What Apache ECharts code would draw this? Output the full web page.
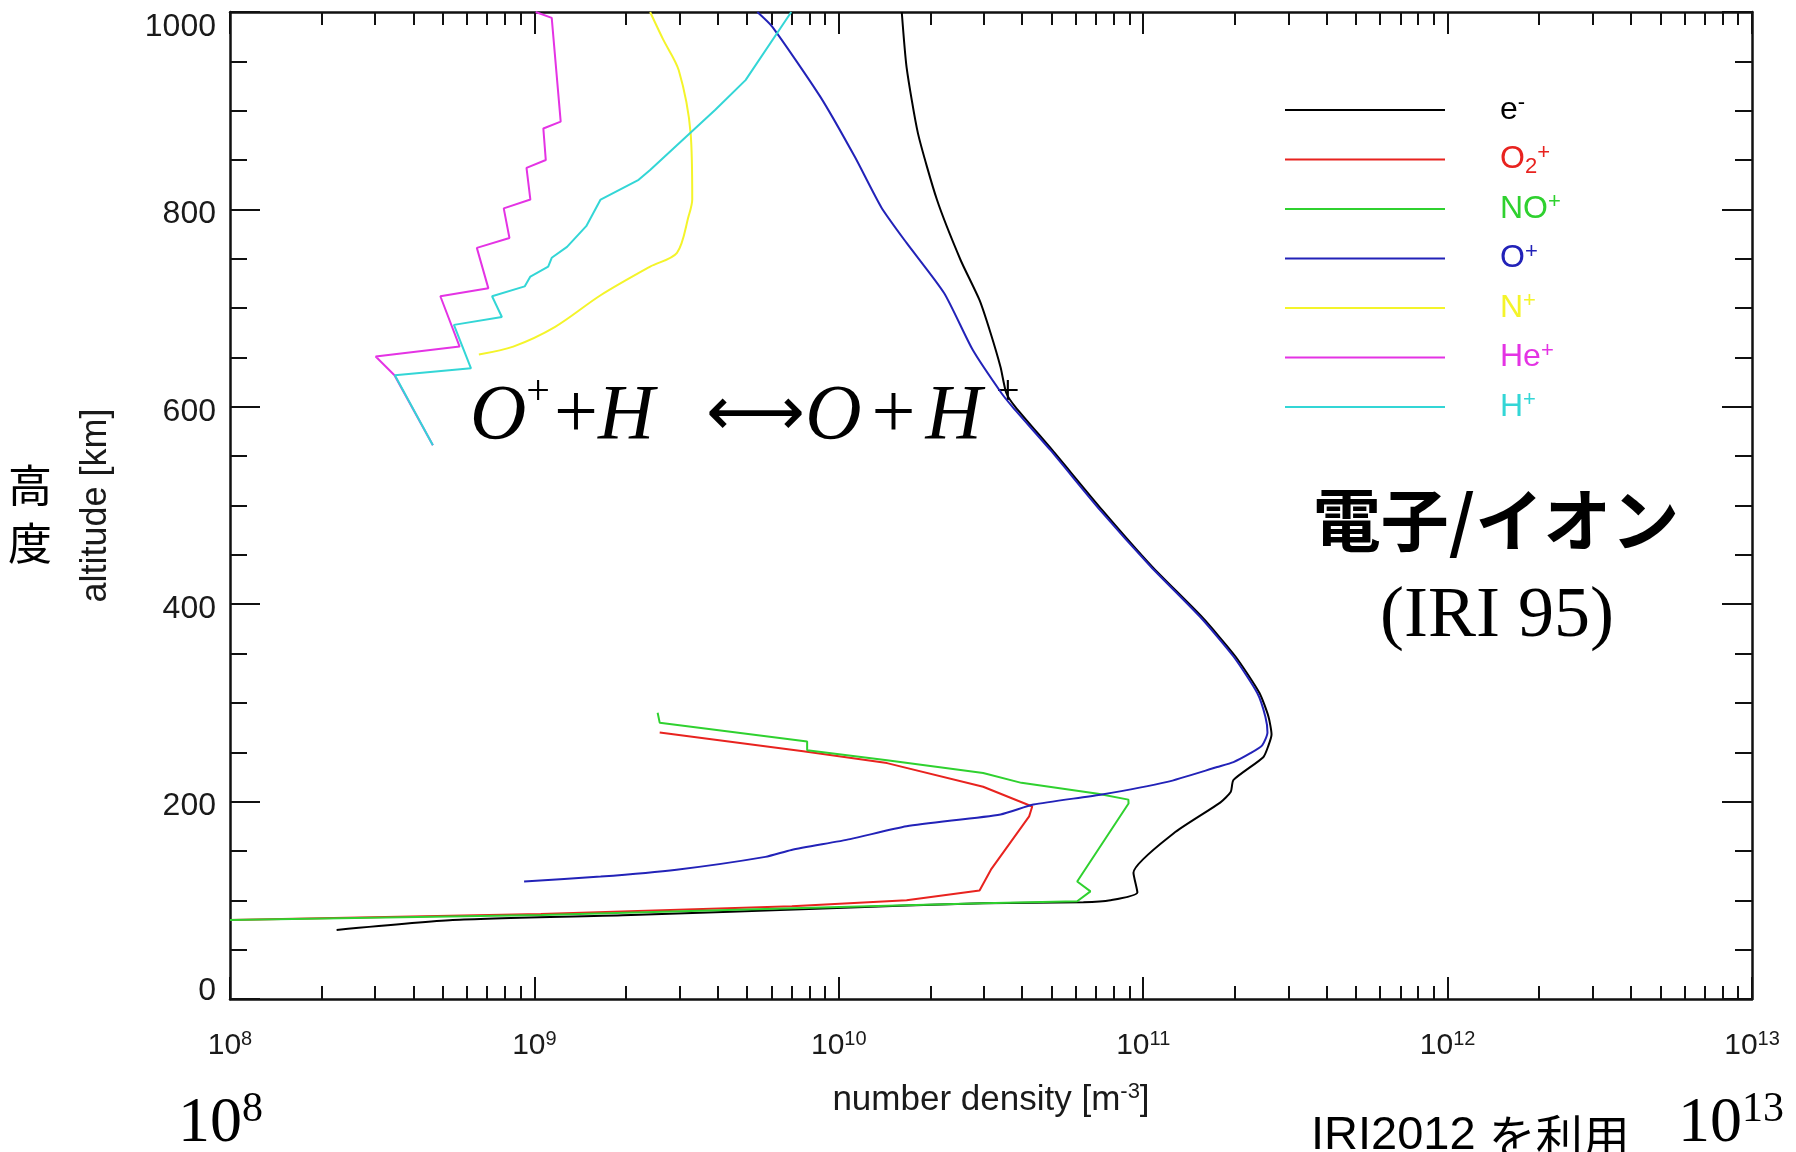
<!DOCTYPE html>
<html><head><meta charset="utf-8">
<script src="https://cdn.jsdelivr.net/npm/echarts@6/dist/echarts.min.js"></script>
<style>html,body{margin:0;padding:0;background:#fff}#c{width:1796px;height:1152px}</style>
</head><body><div id="c"></div>
<script>
// ---- data (number density in m^-3, altitude in km) ----
const eDens = [1.61e10,1.67e10,1.82e10,2.10e10,2.51e10,2.90e10,3.15e10,3.40e10,3.55e10,3.80e10,5.03e10,7.35e10,1.07e11,1.56e11,2.01e11,2.41e11,2.58e11,2.64e11,2.58e11,2.48e11,1.98e11,1.94e11,1.79e11,1.26e11,9.29e10,9.57e10,7.80e10,6.36e10,2.98e10,9.36e9,2.08e9,5.39e8,2.24e8];
const eAlt  = [1000,944,877,810,749,708,675,640,614,600,556,495,438,387,347,310,286,268,257,245,222,210,199,168,128,108,100,98,97,92,85,80,70];

const o2Dens = [2.58e9,7.64e9,1.44e10,2.98e10,4.32e10,4.22e10,3.16e10,2.90e10,1.67e10,7.01e9,1.05e9,1.0e8];
const o2Alt  = [270,251,239,215,195,185,131,110,100,94,86,80];

const noDens = [2.54e9,2.58e9,7.87e9,7.87e9,1.44e10,2.98e10,3.98e10,7.10e10,8.94e10,8.95e10,6.07e10,6.71e10,6.07e10,2.98e10,9.36e9,1.06e9,1.0e8];
const noAlt  = [290,280,261,252,242,229,219,208,202,198,119,109,99,97,93,85,80];

const oDens = [5.40e9,6.05e9,8.70e9,1.13e10,1.38e10,1.67e10,2.22e10,2.75e10,3.42e10,3.72e10,4.96e10,7.23e10,1.06e11,1.54e11,1.98e11,2.37e11,2.52e11,2.56e11,2.46e11,2.25e11,1.98e11,1.75e11,1.20e11,7.23e10,4.36e10,3.40e10,1.67e10,1.09e10,6.99e9,5.74e9,2.93e9,1.65e9,9.25e8];
const oAlt  = [1000,985,914,853,802,766,715,658,614,600,556,495,438,387,347,310,286,270,257,249,240,235,220,207,197,187,175,162,151,144,131,124,119];

const nDens = [6.57e8,8.52e8,1.17e9,1.65e9,2.40e9,2.94e9,3.21e9,3.30e9,3.26e9,2.98e9,2.65e9,2.40e9];
const nAlt  = [653,661,681,713,742,756,793,810,877,941,972,1000];

const heDens = [1.01e9,1.14e9,1.22e9,1.07e9,1.09e9,9.42e8,9.70e8,7.93e8,8.28e8,6.47e8,7.06e8,4.91e8,5.68e8,3.01e8,3.47e8,4.64e8];
const heAlt  = [1000,994,889,882,850,842,810,801,771,761,720,712,661,651,632,561];

const hDens = [4.64e8,3.48e8,6.19e8,5.44e8,7.82e8,7.26e8,9.29e8,9.70e8,1.11e9,1.14e9,1.28e9,1.48e9,1.65e9,2.20e9,2.40e9,3.93e9,4.94e9,6.98e9];
const hAlt  = [561,632,639,683,691,712,722,732,742,751,762,783,810,830,840,901,931,1000];

const speciesNames = ['e-','O2+','NO+','O+','N+','He+','H+'];
const speciesColors = ['#000000','#e8231f','#2fd12f','#2222b8','#f4f42a','#e433e4','#33d6d6'];
const speciesSmooth = [0.2, 0, 0, 0.2, 0.3, 0, 0];
const xMajorTicks = [1e8,1e9,1e10,1e11,1e12,1e13];

// ---- build ----
const zip = (xs, ys) => xs.map((x, i) => [x, ys[i]]);
const seriesData = [zip(eDens,eAlt), zip(o2Dens,o2Alt), zip(noDens,noAlt), zip(oDens,oAlt), zip(nDens,nAlt), zip(heDens,heAlt), zip(hDens,hAlt)];

const xMinorTicks = [];
for (let d = 8; d < 13; d++) for (let k = 2; k <= 9; k++) xMinorTicks.push(k * Math.pow(10, d));

const SANS = '"Liberation Sans", Arial, Helvetica, sans-serif';
const SERIF = '"Liberation Serif", "Times New Roman", serif';
const CJK = '"Noto Sans CJK JP", "Noto Sans", sans-serif';
const AX = '#111';
const TXT = '#1a1a1a';

const legendTexts = {
  'e-': '{sp| }{k0|e}{u0|-}',
  'O2+': '{sp| }{k1|O}{d1|2}{u1|+}',
  'NO+': '{sp| }{k2|NO}{u2|+}',
  'O+': '{sp| }{k3|O}{u3|+}',
  'N+': '{sp| }{k4|N}{u4|+}',
  'He+': '{sp| }{k5|He}{u5|+}',
  'H+': '{sp| }{k6|H}{u6|+}'
};
const legendRich = { sp: { width: 50, fontSize: 32, lineHeight: 36 } };
speciesColors.forEach((c, i) => {
  legendRich['k' + i] = { color: c, fontSize: 32, lineHeight: 36, fontFamily: SANS };
  legendRich['u' + i] = { color: c, fontSize: 22, lineHeight: 22, padding: [0, 0, 14, 0], fontFamily: SANS };
  legendRich['d' + i] = { color: c, fontSize: 22, lineHeight: 22, padding: [14, 0, 0, 0], fontFamily: SANS };
});

const supLabel = {
  b: { fontSize: 30, lineHeight: 34, fontFamily: SANS, color: TXT },
  s: { fontSize: 20, lineHeight: 20, padding: [0, 0, 14, 0], fontFamily: SANS, color: TXT }
};

function xAxisBase(pos, ticks, len, showLine, showLabel) {
  return {
    type: 'log', logBase: 10, min: 1e8, max: 1e13, position: pos,
    axisLine: { show: showLine, onZero: false, lineStyle: { color: AX, width: 2.5 } },
    axisTick: { show: true, inside: true, length: len, customValues: ticks, lineStyle: { color: AX, width: 2 } },
    axisLabel: showLabel ? {
      show: true, customValues: xMajorTicks, margin: 30,
      formatter: v => '{b|10}{s|' + Math.round(Math.log10(v)) + '}',
      rich: supLabel
    } : { show: false },
    splitLine: { show: false }, minorTick: { show: false },
    name: showLabel ? '{b|number density [m}{s|-3}{b|]}' : '',
    nameLocation: 'middle', nameGap: 82,
    nameTextStyle: { rich: {
      b: { fontSize: 35, lineHeight: 38, fontFamily: SANS, color: TXT },
      s: { fontSize: 22, lineHeight: 22, padding: [0, 0, 16, 0], fontFamily: SANS, color: TXT } } }
  };
}

function yAxisBase(pos, showLabel) {
  return {
    type: 'value', min: 0, max: 1000, interval: 200, position: pos,
    axisLine: { show: true, onZero: false, lineStyle: { color: AX, width: 2.5 } },
    axisTick: { show: true, inside: true, length: 30, lineStyle: { color: AX, width: 2 } },
    minorTick: { show: true, splitNumber: 4, length: 17, lineStyle: { color: AX, width: 2 } },
    splitLine: { show: false },
    axisLabel: showLabel ? {
      show: true, margin: 14,
      formatter: v => v === 1000 ? '{t|1000}' : (v === 0 ? '{z|0}' : '{n|' + v + '}'),
      rich: {
        t: { fontSize: 32, fontFamily: SANS, color: TXT, padding: [30, 0, 0, 0] },
        z: { fontSize: 32, fontFamily: SANS, color: TXT, padding: [0, 0, 16, 0] },
        n: { fontSize: 32, fontFamily: SANS, color: TXT, padding: [10, 0, 0, 0] }
      }
    } : { show: false },
    name: showLabel ? 'altitude [km]' : '',
    nameLocation: 'middle', nameRotate: 90, nameGap: 116,
    nameTextStyle: { fontSize: 36, fontFamily: SANS, color: TXT }
  };
}

const option = {
  backgroundColor: '#ffffff',
  animation: false,
  grid: { left: 230, top: 12, width: 1522, height: 987, containLabel: false },
  xAxis: [
    xAxisBase('bottom', xMajorTicks, 22, true, true),
    xAxisBase('bottom', xMinorTicks, 13, false, false),
    xAxisBase('top', xMajorTicks, 22, true, false),
    xAxisBase('top', xMinorTicks, 13, false, false)
  ],
  yAxis: [yAxisBase('left', true), yAxisBase('right', false)],
  legend: {
    orient: 'vertical', left: 1285, top: 92, padding: 0,
    itemWidth: 160, itemHeight: 2, itemGap: 13.5,
    icon: 'rect',
    selectedMode: false,
    data: speciesNames,
    formatter: name => legendTexts[name],
    textStyle: { fontSize: 32, lineHeight: 36, fontFamily: SANS, rich: legendRich }
  },
  series: speciesNames.map((n, i) => ({
    name: n, type: 'line', data: seriesData[i],
    xAxisIndex: 0, yAxisIndex: 0,
    showSymbol: false, symbol: 'none', smooth: speciesSmooth[i], clip: true,
    lineStyle: { color: speciesColors[i], width: 2 },
    itemStyle: { color: speciesColors[i] },
    z: 2 + i
  })),
  graphic: [
    { type: 'text', x: 470, y: 372, style: {
        text: '{i|O}{p|+}{b|+}{h|H}{a|\u27F7}{i|O}{c|+}{i|H}{q|+}',
        rich: {
          i: { fontFamily: SERIF, fontStyle: 'italic', fontSize: 78, lineHeight: 90, fill: '#000' },
          h: { fontFamily: SERIF, fontStyle: 'italic', fontSize: 78, lineHeight: 90, fill: '#000', padding: [0, 16, 0, 0] },
          b: { fontFamily: SERIF, fontSize: 78, lineHeight: 90, fill: '#000', padding: [0, 0, 0, 4] },
          c: { fontFamily: SERIF, fontSize: 78, lineHeight: 90, fill: '#000', padding: [0, 10, 0, 10] },
          a: { fontFamily: '"DejaVu Sans", sans-serif', fontSize: 69, lineHeight: 90, fill: '#000', padding: [0, 0, 0, 36] },
          p: { fontFamily: SERIF, fontSize: 42, lineHeight: 42, padding: [0, 0, 48, 0], fill: '#000' },
          q: { fontFamily: SERIF, fontSize: 42, lineHeight: 42, padding: [0, 0, 48, 14], fill: '#000' }
        } } },
    { type: 'text', x: 1496, y: 520, style: { text: '電子/イオン', font: 'bold 68px ' + CJK, fill: '#000', textAlign: 'center', textVerticalAlign: 'middle' } },
    { type: 'text', x: 1497, y: 617, style: { text: '(IRI 95)', font: '72px ' + SERIF, fill: '#000', textAlign: 'center', textVerticalAlign: 'middle' } },
    { type: 'text', x: 30, y: 485, style: { text: '高', font: '44px ' + CJK, fill: '#000', textAlign: 'center', textVerticalAlign: 'middle' } },
    { type: 'text', x: 30, y: 543, style: { text: '度', font: '44px ' + CJK, fill: '#000', textAlign: 'center', textVerticalAlign: 'middle' } },
    { type: 'text', x: 1311, y: 1113, style: {
        text: '{a|IRI2012 }{j|を利用}',
        rich: { a: { fontFamily: SANS, fontSize: 47, fill: '#000' }, j: { fontFamily: CJK, fontSize: 47, fill: '#000' } } } },
    { type: 'text', x: 178, y: 1089, style: {
        text: '{b|10}{s|8}',
        rich: { b: { fontFamily: SERIF, fontSize: 64, lineHeight: 70, fill: '#000' },
                s: { fontFamily: SERIF, fontSize: 42, lineHeight: 42, padding: [0, 0, 28, 0], fill: '#000' } } } },
    { type: 'text', x: 1678, y: 1089, style: {
        text: '{b|10}{s|13}',
        rich: { b: { fontFamily: SERIF, fontSize: 64, lineHeight: 70, fill: '#000' },
                s: { fontFamily: SERIF, fontSize: 42, lineHeight: 42, padding: [0, 0, 28, 0], fill: '#000' } } } }
  ]
};

const chart = echarts.init(document.getElementById('c'), null, { renderer: 'canvas', width: 1796, height: 1152 });
chart.setOption(option);
</script></body></html>
